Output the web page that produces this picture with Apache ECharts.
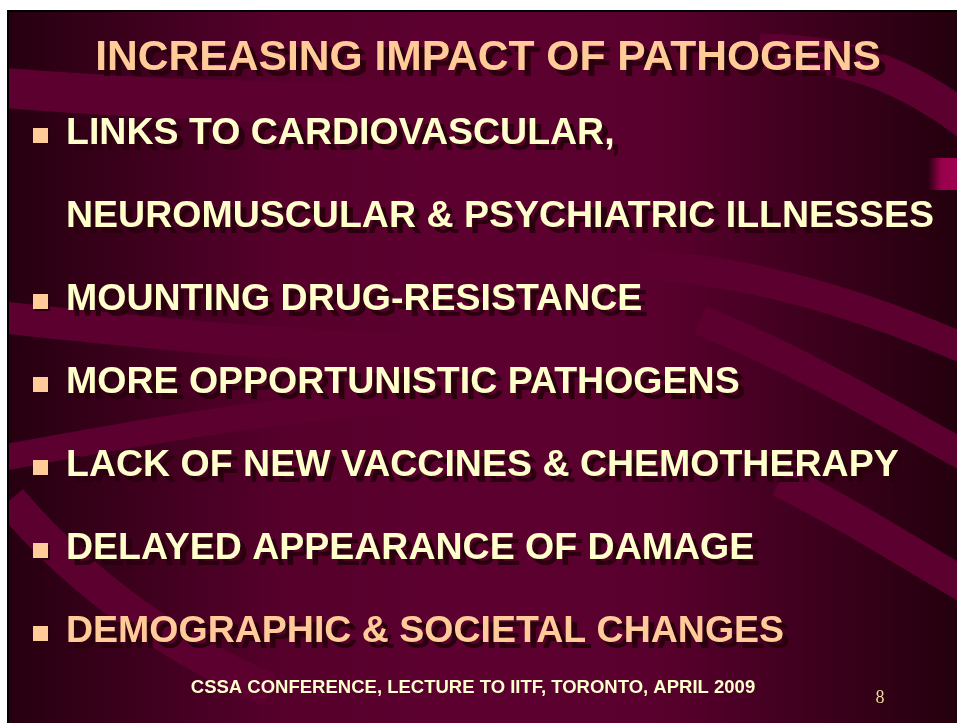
<!DOCTYPE html>
<html>
<head>
<meta charset="utf-8">
<script src="https://cdn.jsdelivr.net/npm/echarts@6/dist/echarts.min.js"></script>
<style>
html,body{margin:0;padding:0;background:#fff;}
#main{width:957px;height:723px;}
</style>
</head>
<body>
<div id="main"></div>
<script>
// ---- slide content ----
const titleText = 'INCREASING IMPACT OF PATHOGENS';
const bulletLines = [
  'LINKS TO CARDIOVASCULAR,',
  'NEUROMUSCULAR & PSYCHIATRIC ILLNESSES',
  'MOUNTING DRUG-RESISTANCE',
  'MORE OPPORTUNISTIC PATHOGENS',
  'LACK OF NEW VACCINES & CHEMOTHERAPY',
  'DELAYED APPEARANCE OF DAMAGE',
  'DEMOGRAPHIC & SOCIETAL CHANGES'
];
const bulletMarks = [true, false, true, true, true, true, true];
const lineColors = ['#ffffcc', '#ffffcc', '#ffffcc', '#ffffcc', '#ffffcc', '#ffffcc', '#ffcc99'];
const footerText = 'CSSA CONFERENCE, LECTURE TO IITF, TORONTO, APRIL 2009';
const pageNumber = '8';

const chart = echarts.init(document.getElementById('main'), null, {renderer: 'canvas'});

const SHADOW = '#2a000f';
const FONT = '"Liberation Sans", Arial, sans-serif';
const els = [];

// background
els.push({
  type: 'rect', shape: {x: 7, y: 10, width: 951, height: 714},
  style: {fill: {type: 'linear', x: 0, y: 0, x2: 1, y2: 0, colorStops: [
    {offset: 0, color: '#260010'}, {offset: 0.28, color: '#55002b'},
    {offset: 0.45, color: '#5c002f'}, {offset: 0.68, color: '#5a002e'},
    {offset: 1, color: '#24000e'}]}}
});
// swoosh bands: [x1,y1,cpx1,cpy1,cpx2,cpy2,x2,y2,width]
const band = '#5c002f';
const bands = [
  [-20, 86, 150, 100, 350, 110, 520, 92, 40],
  [760, 52, 850, 50, 920, 80, 990, 140, 36],
  [-20, 315, 120, 330, 300, 350, 480, 350, 32],
  [-20, 462, 100, 440, 250, 410, 420, 400, 26],
  [640, 265, 760, 270, 880, 310, 990, 360, 30],
  [700, 320, 800, 360, 900, 420, 990, 470, 30],
  [780, 480, 860, 520, 920, 560, 990, 600, 34],
  [10, 500, 60, 560, 150, 640, 270, 690, 34]
];
bands.forEach(b => els.push({
  type: 'bezierCurve',
  shape: {x1: b[0], y1: b[1], cpx1: b[2], cpy1: b[3], cpx2: b[4], cpy2: b[5], x2: b[6], y2: b[7]},
  style: {fill: null, stroke: band, lineWidth: b[8]}
}));
// right-edge accent
els.push({
  type: 'rect', shape: {x: 928, y: 158, width: 30, height: 32},
  style: {fill: {type: 'linear', x: 0, y: 0, x2: 1, y2: 0, colorStops: [
    {offset: 0, color: 'rgba(160,0,80,0)'}, {offset: 0.45, color: '#99004c'}, {offset: 1, color: '#a00050'}]}}
});
// white margins and frame
els.push({type: 'rect', shape: {x: 0, y: 0, width: 957, height: 10}, style: {fill: '#fff'}});
els.push({type: 'rect', shape: {x: 0, y: 0, width: 7, height: 723}, style: {fill: '#fff'}});
els.push({type: 'rect', shape: {x: 7, y: 10, width: 951, height: 2}, style: {fill: '#000'}});
els.push({type: 'rect', shape: {x: 7, y: 10, width: 2, height: 714}, style: {fill: '#000'}});

function addText(txt, x, baseline, size, color, align, font, dx) {
  const y = baseline - size * 0.355;
  els.push({type: 'text', x: x + dx, y: y + dx, style: {text: txt, fill: SHADOW, font: font, align: align, verticalAlign: 'middle'}});
  els.push({type: 'text', x: x, y: y, style: {text: txt, fill: color, font: font, align: align, verticalAlign: 'middle'}});
}

// title
addText(titleText, 488, 73, 42.6, '#ffcc99', 'center', 'bold 42.6px ' + FONT, 6);

// bullets
const baselines0 = 147, step = 83;
bulletLines.forEach((t, i) => {
  const base = baselines0 + i * step;
  if (bulletMarks[i]) {
    els.push({type: 'rect', shape: {x: 35, y: base - 17, width: 15, height: 15}, style: {fill: SHADOW}});
    els.push({type: 'rect', shape: {x: 33, y: base - 19, width: 15, height: 15}, style: {fill: '#ffcc99'}});
  }
  addText(t, 66, base, 37.5, lineColors[i], 'left', 'bold 37.5px ' + FONT, 6);
});

// footer
els.push({type: 'text', x: 473, y: 694 - 18.5 * 0.355, style: {text: footerText, fill: '#ffffcc', font: 'bold 18.5px ' + FONT, align: 'center', verticalAlign: 'middle'}});
els.push({type: 'text', x: 880, y: 704 - 18 * 0.33, style: {text: pageNumber, fill: '#f0d8a0', font: '18px "Liberation Serif", "Times New Roman", serif', align: 'center', verticalAlign: 'middle'}});

chart.setOption({
  animation: false,
  backgroundColor: '#ffffff',
  graphic: {elements: els}
});
</script>
</body>
</html>
